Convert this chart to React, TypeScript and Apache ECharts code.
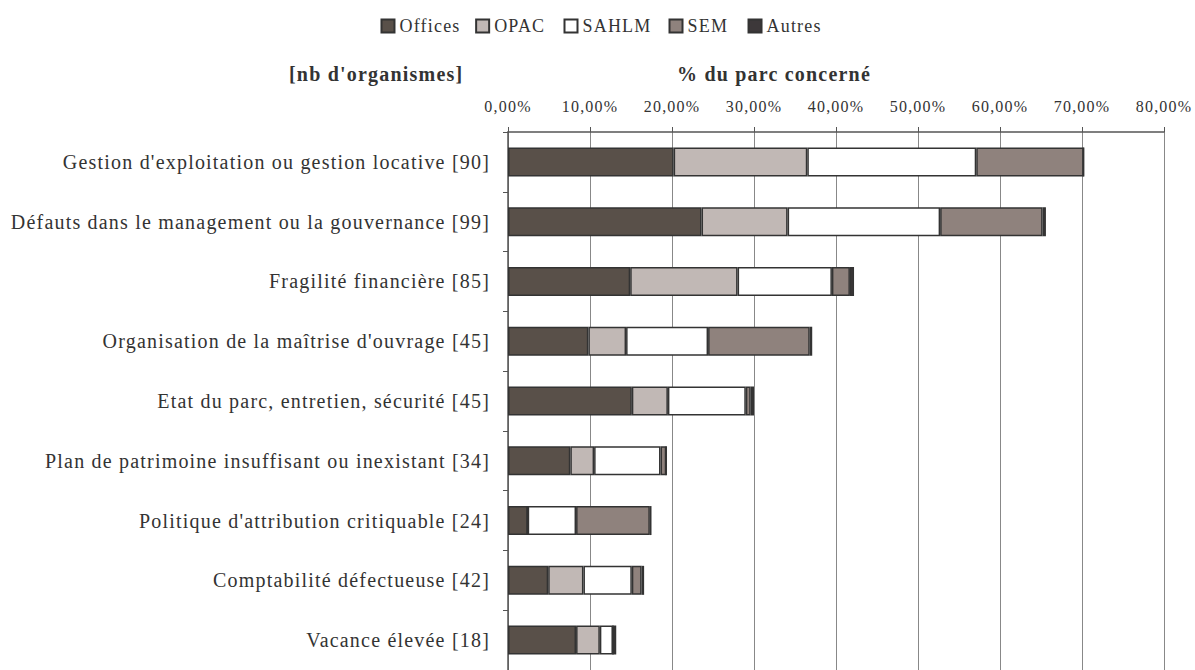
import React, { useEffect, useRef } from "react";
import * as echarts from "echarts";

const categories = [
  "Gestion d'exploitation ou gestion locative [90]",
  "Défauts dans le management ou la gouvernance [99]",
  "Fragilité financière [85]",
  "Organisation de la maîtrise d'ouvrage [45]",
  "Etat du parc, entretien, sécurité [45]",
  "Plan de patrimoine insuffisant ou inexistant [34]",
  "Politique d'attribution critiquable [24]",
  "Comptabilité défectueuse [42]",
  "Vacance élevée [18]",
];

const seriesNames = ["Offices", "OPAC", "SAHLM", "SEM", "Autres"];
const offices = [20.2, 23.6, 14.9, 9.8, 15.1, 7.6, 2.4, 4.9, 8.3];
const opac = [16.3, 10.5, 13.1, 4.6, 4.4, 2.9, 0, 4.3, 2.9];
const sahlm = [20.6, 18.6, 11.5, 10.0, 9.5, 8.1, 5.9, 5.9, 1.6];
const sem = [13.1, 12.5, 2.2, 12.4, 0.6, 0.7, 9.0, 1.2, 0];
const autres = [0, 0.4, 0.5, 0.3, 0.4, 0, 0.2, 0.3, 0.4];

const seriesColors = ["#595049", "#c1b8b5", "#ffffff", "#8f827d", "#3d383a"];

const FONT = "'Liberation Serif', 'Times New Roman', serif";

export default function App() {
  const ref = useRef<HTMLDivElement>(null);
  useEffect(() => {
    if (!ref.current) return;
    const chart = echarts.init(ref.current, undefined, { renderer: "svg" });
    const values = [offices, opac, sahlm, sem, autres];
    chart.setOption({
      animation: false,
      backgroundColor: "#ffffff",
      textStyle: { fontFamily: FONT, color: "#333" },
      legend: {
        top: 12,
        left: "center",
        itemWidth: 13,
        itemHeight: 13,
        itemGap: 23,
        icon: "rect",
        textStyle: { fontFamily: FONT, fontSize: 18, color: "#333" },
        data: seriesNames,
      },
      grid: { left: 508, top: 132, width: 656, height: 546 },
      xAxis: {
        type: "value",
        position: "top",
        min: 0,
        max: 80,
        interval: 10,
        axisLine: { show: true, lineStyle: { color: "#555", width: 1.5 } },
        axisTick: { show: true, length: 5, lineStyle: { color: "#555" } },
        axisLabel: {
          margin: 18,
          fontFamily: FONT,
          fontSize: 16,
          color: "#333",
          formatter: (v: number) => v.toFixed(2).replace(".", ",") + "%",
        },
        splitLine: { show: true, lineStyle: { color: "#888", width: 1 } },
      },
      yAxis: {
        type: "category",
        inverse: true,
        data: categories,
        axisLine: { show: true, lineStyle: { color: "#555", width: 1.5 } },
        axisTick: { show: true, length: 5, lineStyle: { color: "#555" } },
        axisLabel: {
          margin: 18,
          fontFamily: FONT,
          fontSize: 20,
          color: "#333",
        },
      },
      graphic: [
        {
          type: "text",
          left: 289,
          top: 64,
          style: {
            text: "[nb d'organismes]",
            font: "bold 20px " + FONT,
            fill: "#333",
          },
        },
        {
          type: "text",
          left: 677,
          top: 64,
          style: {
            text: "% du parc concerné",
            font: "bold 20px " + FONT,
            fill: "#333",
          },
        },
      ],
      series: seriesNames.map((name, i) => ({
        name,
        type: "bar",
        stack: "total",
        barWidth: 29,
        data: values[i],
        itemStyle: {
          color: seriesColors[i],
          borderColor: "#333",
          borderWidth: 1.5,
        },
        emphasis: { disabled: true },
      })),
    });
    return () => chart.dispose();
  }, []);
  return (
    <div
      ref={ref}
      style={{
        position: "absolute",
        left: 0,
        top: 0,
        width: 1195,
        height: 670,
        letterSpacing: "1.2px",
      }}
    />
  );
}
